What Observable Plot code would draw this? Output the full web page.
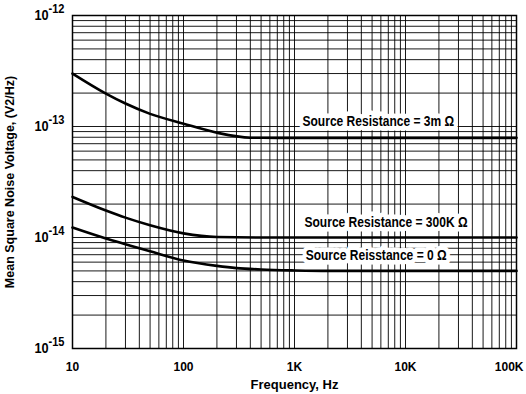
<!DOCTYPE html>
<html>
<head>
<meta charset="utf-8">
<script src="https://cdn.jsdelivr.net/npm/d3@7"></script>
<script src="https://cdn.jsdelivr.net/npm/@observablehq/plot@0.6"></script>
<style>
  html, body { margin: 0; padding: 0; background: #fff; }
</style>
</head>
<body>
<div id="chart"></div>
<script>
// ---- data ----
const freq3m   = [10, 20, 30, 50, 100, 200, 400, 700, 1000, 10000, 100000];
const volt3m   = [3.0e-13, 1.98e-13, 1.61e-13, 1.30e-13, 1.06e-13, 8.79e-14, 7.93e-14, 7.9e-14, 7.9e-14, 7.9e-14, 7.9e-14];

const freq300k = [10, 20, 30, 50, 100, 200, 500, 1000, 10000, 100000];
const volt300k = [2.32e-14, 1.75e-14, 1.51e-14, 1.29e-14, 1.09e-14, 1.01e-14, 1.0e-14, 1.0e-14, 1.0e-14, 1.0e-14];

const freq0    = [10, 20, 30, 50, 100, 200, 300, 500, 1000, 2000, 10000, 100000];
const volt0    = [1.23e-14, 9.8e-15, 8.7e-15, 7.5e-15, 6.2e-15, 5.55e-15, 5.3e-15, 5.15e-15, 5.05e-15, 5.0e-15, 5.0e-15, 5.0e-15];

const labelText = ["Source Resistance = 3m Ω", "Source Resistance = 300K Ω", "Source Reisstance = 0 Ω"];
const labelFreq = [1180, 1230, 1260];
const labelVolt = [1.1e-13, 1.355e-14, 6.84e-15];

const xTicks = [10, 100, 1000, 10000, 100000];
const xTickLabels = ["10", "100", "1K", "10K", "100K"];
const yTicks = [1e-15, 1e-14, 1e-13, 1e-12];
const yTickExp = ["-15", "-14", "-13", "-12"];

const mantissas = [1, 2, 3, 4, 5, 6, 7, 8, 9];
const xDecades = [10, 100, 1000, 10000];
const yDecades = [1e-15, 1e-14, 1e-13];

// ---- derived tables ----
const xGrid = xDecades.flatMap(d => mantissas.map(m => m * d)).concat([100000]);
const yGrid = yDecades.flatMap(d => mantissas.map(m => m * d)).concat([1e-12]);

const series = [
  ...freq3m.map((f, i) => ({f, v: volt3m[i], s: "3m"})),
  ...freq300k.map((f, i) => ({f, v: volt300k[i], s: "300k"})),
  ...freq0.map((f, i) => ({f, v: volt0[i], s: "0"}))
];
const labels = labelText.map((t, i) => ({t, f: labelFreq[i], v: labelVolt[i]}));

const FONT = "'Liberation Sans', Arial, Helvetica, sans-serif";

const chart = Plot.plot({
  width: 526,
  height: 394,
  marginLeft: 72,
  marginRight: 10,
  marginTop: 15,
  marginBottom: 46,
  style: {fontFamily: FONT, background: "white", color: "black"},
  x: {type: "log", domain: [10, 100000]},
  y: {type: "log", domain: [1e-15, 1e-12]},
  marks: [
    Plot.ruleX(xGrid, {x: d => d, stroke: "black", strokeWidth: 1, strokeOpacity: 0.9}),
    Plot.ruleY(yGrid, {y: d => d, stroke: "black", strokeWidth: 1, strokeOpacity: 0.9}),
    Plot.frame({stroke: "black", strokeWidth: 1.5}),
    Plot.line(series, {x: "f", y: "v", z: "s", stroke: "black", strokeWidth: 2.6, curve: "monotone-x"}),
    Plot.text(labels, {x: "f", y: "v", text: "t", textAnchor: "start", fontSize: 14, fontWeight: "bold",
      fill: "black", stroke: "white", strokeWidth: 9, strokeLinejoin: "round", className: "reslabel"}),
    Plot.axisX({ticks: xTicks, tickFormat: d => xTickLabels[xTicks.indexOf(d)], tickSize: 0, tickPadding: 14,
      fontSize: 12, fontWeight: "bold", label: "Frequency, Hz", labelAnchor: "center", labelArrow: "none", labelOffset: 40}),
    Plot.axisY({ticks: yTicks, tickFormat: d => "10|" + yTickExp[yTicks.indexOf(d)], tickSize: 0, tickPadding: 8,
      fontSize: 14, fontWeight: "bold", label: "Mean Square Noise Voltage, (V2/Hz)", labelAnchor: "center", labelArrow: "none", labelOffset: 67})
  ]
});

// compress a text element horizontally about its anchor point (keeps its own x/y attributes)
function squeeze(el, s) {
  const xa = el.getAttribute("x");
  const x = xa != null && /^-?[\d.]+$/.test(xa) ? +xa : 0;
  const t = el.getAttribute("transform") || "";
  el.setAttribute("transform", `${t} translate(${x},0) scale(${s},1) translate(${-x},0)`.trim());
}

// superscript exponents on y tick labels
d3.select(chart).selectAll('g[aria-label="y-axis tick label"] text').each(function() {
  const parts = this.textContent.split("|");
  const t = d3.select(this);
  t.text(null).attr("font-size", 15).attr("font-weight", "bold");
  t.append("tspan").attr("font-size", 15).text(parts[0]);
  t.append("tspan").attr("dy", "-7").attr("font-size", 13).text(parts[1]);
  squeeze(this, 0.85);
});
// last x tick label kept inside the picture
const xt = d3.select(chart).selectAll('g[aria-label="x-axis tick label"] text').nodes();
xt.forEach(n => d3.select(n).attr("font-size", 12).attr("font-weight", "bold"));
d3.select(xt[xt.length - 1]).attr("text-anchor", "end").attr("dx", 7);

d3.select(chart).selectAll('g[aria-label="x-axis label"] text').attr("font-size", 13).attr("font-weight", "bold");
d3.select(chart).selectAll('g[aria-label="y-axis label"] text').attr("font-size", 12.5).attr("font-weight", "bold");
d3.select(chart).selectAll('.reslabel text').each(function() { squeeze(this, 0.86); });

document.getElementById("chart").appendChild(chart);
</script>
</body>
</html>
